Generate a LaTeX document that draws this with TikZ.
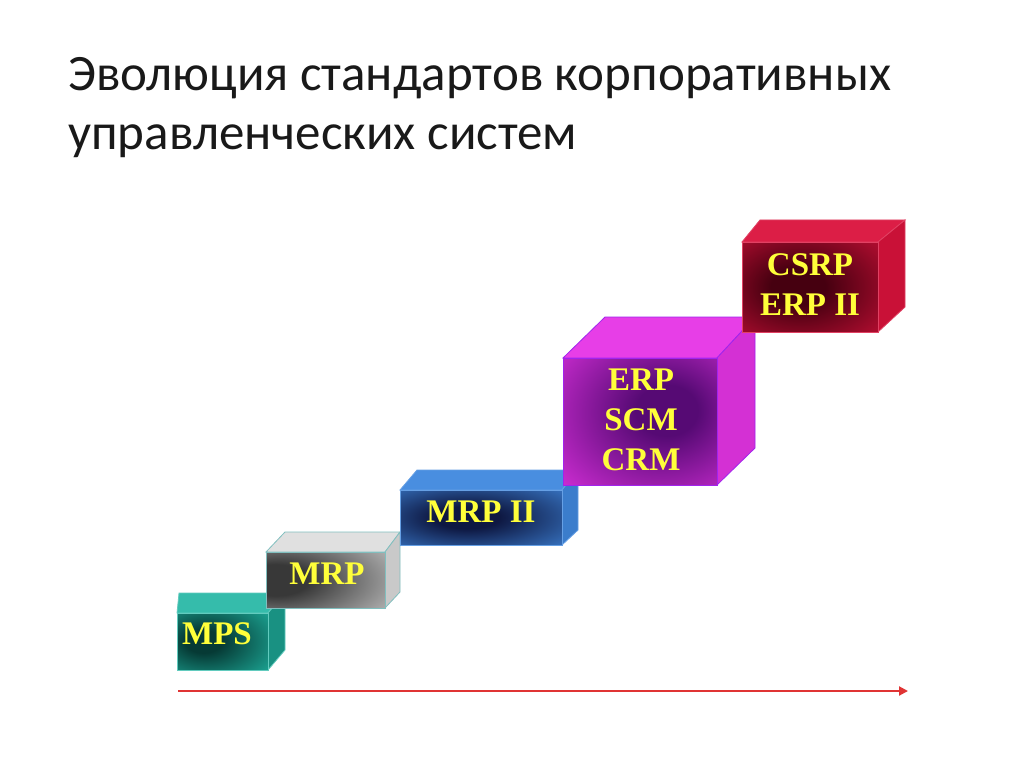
\documentclass[tikz,border=0pt]{standalone}
\usepackage{fontspec}
\setmainfont{Carlito}
\newfontfamily\boxfont{Liberation Serif}
\definecolor{mpsD}{HTML}{063A35}\definecolor{mpsL}{HTML}{1FB5A2}
\definecolor{mrpD}{HTML}{383838}\definecolor{mrpL}{HTML}{ECECEC}
\definecolor{mrptD}{HTML}{0E1842}\definecolor{mrptL}{HTML}{4088DE}
\definecolor{erpD}{HTML}{560A74}\definecolor{erpL}{HTML}{E634E6}
\definecolor{csrpD}{HTML}{460010}\definecolor{csrpL}{HTML}{DA123C}
\definecolor{txtY}{HTML}{FFFF3A}
\definecolor{lineR}{HTML}{E03434}
\pgfdeclareradialshading{shMPS}{\pgfpoint{-12bp}{0bp}}{color(0bp)=(mpsD); color(10bp)=(mpsD); color(46bp)=(mpsL); color(80bp)=(mpsL)}
\pgfdeclareradialshading{shMRP}{\pgfpoint{-25bp}{0bp}}{color(0bp)=(mrpD); color(14bp)=(mrpD); color(62bp)=(mrpL); color(90bp)=(mrpL)}
\pgfdeclareradialshading{shMRPT}{\pgfpoint{-5bp}{0bp}}{color(0bp)=(mrptD); color(10bp)=(mrptD); color(45bp)=(mrptL); color(80bp)=(mrptL)}
\pgfdeclareradialshading{shERP}{\pgfpoint{10bp}{5bp}}{color(0bp)=(erpD); color(10bp)=(erpD); color(48bp)=(erpL); color(80bp)=(erpL)}
\pgfdeclareradialshading{shCSRP}{\pgfpoint{-5bp}{0bp}}{color(0bp)=(csrpD); color(10bp)=(csrpD); color(48bp)=(csrpL); color(80bp)=(csrpL)}
\tikzset{
  titletext/.style={anchor=base west, inner sep=0pt, font=\fontsize{51}{60}\selectfont, text=black!90},
  boxlabel/.style={align=center, inner sep=0pt, text=txtY, font=\boxfont\bfseries\fontsize{33}{40}\selectfont},
  edge/.style={line width=0.8pt},
  timeline/.style={draw=lineR, line width=2pt, -{Triangle[length=9pt,width=9pt]}}
}
\usetikzlibrary{arrows.meta}
\begin{document}
\begin{tikzpicture}[x=1pt,y=-1pt]
\useasboundingbox[fill=white] (0,0) rectangle (1024,767);
% title
\node[titletext] (t1) at (68,91) {Эволюция стандартов корпоративных};
\node[titletext] (t2) at (68,150) {управленческих систем};
% MPS
\fill[mpsL!90!white, draw=mpsL!70!white, edge] (177,613) -- (268,613) -- (285,593) -- (179,593) -- cycle;
\fill[mpsL!80!black, draw=mpsL!70!white, edge] (268,613) -- (285,593) -- (285,650) -- (268,670) -- cycle;
\shade[shading=shMPS, draw=mpsL!70!white, edge] (177,613) rectangle (268,670);
\node[boxlabel] (mps) at (217,634) {MPS};
% MRP
\fill[mrpL!95!black, draw=teal!50!white, edge] (266,552) -- (385,552) -- (400,532) -- (285,532) -- cycle;
\fill[mrpL!85!black, draw=teal!50!white, edge] (385,552) -- (400,532) -- (400,592) -- (385,608) -- cycle;
\shade[shading=shMRP, draw=teal!50!white, edge] (266,552) rectangle (385,608);
\node[boxlabel] (mrp) at (327,574) {MRP};
% MRP II
\fill[mrptL!95!white, draw=mrptL!80!white, edge] (400,490) -- (562,490) -- (578,470) -- (417,470) -- cycle;
\fill[mrptL!92!black, draw=mrptL!80!white, edge] (562,490) -- (578,470) -- (578,530) -- (562,545) -- cycle;
\shade[shading=shMRPT, draw=mrptL!80!white, edge] (400,490) rectangle (562,545);
\node[boxlabel] (mrp2) at (481,512) {MRP II};
% ERP
\fill[erpL!95!white, draw=erpL!70!blue, edge] (563,358) -- (717,358) -- (755,317) -- (605,317) -- cycle;
\fill[erpL!92!black, draw=erpL!70!blue, edge] (717,358) -- (755,317) -- (755,448) -- (717,485) -- cycle;
\shade[shading=shERP, draw=erpL!70!blue, edge] (563,358) rectangle (717,485);
\node[boxlabel] (erp) at (641,420) {ERP\\SCM\\CRM};
% CSRP
\fill[csrpL!95!white, draw=csrpL!80!white, edge] (742,242) -- (878,242) -- (905,220) -- (760,220) -- cycle;
\fill[csrpL!92!black, draw=csrpL!80!white, edge] (878,242) -- (905,220) -- (905,307) -- (878,332) -- cycle;
\shade[shading=shCSRP, draw=csrpL!80!white, edge] (742,242) rectangle (878,332);
\node[boxlabel] (csrp) at (810,285) {CSRP\\ERP II};
% timeline
\coordinate (a0) at (178,691);
\coordinate (a1) at (908,691);
\draw[timeline] (a0) -- (a1);
\end{tikzpicture}
\end{document}
